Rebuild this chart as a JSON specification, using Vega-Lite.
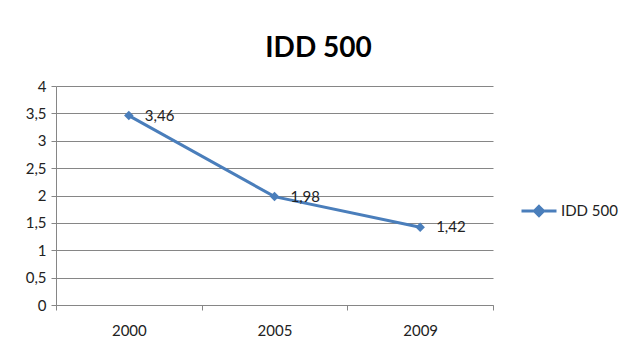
{
  "$schema": "https://vega.github.io/schema/vega-lite/v6.json",
  "width": 437,
  "height": 219,
  "autosize": "none",
  "padding": {"left": 56, "top": 86, "right": 130, "bottom": 37},
  "background": "white",
  "title": {
    "text": "IDD 500",
    "font": "Lato",
    "fontSize": 28,
    "fontWeight": "bold",
    "color": "#000000",
    "anchor": "middle",
    "dx": 44,
    "baseline": "alphabetic",
    "offset": 29,
    "dy": 35
  },
  "data": {
    "values": [
      {"year": "2000", "value": 3.46, "series": "IDD 500"},
      {"year": "2005", "value": 1.98, "series": "IDD 500"},
      {"year": "2009", "value": 1.42, "series": "IDD 500"}
    ]
  },
  "encoding": {
    "x": {
      "field": "year",
      "type": "ordinal",
      "scale": {"type": "band", "paddingInner": 0, "paddingOuter": 0},
      "axis": {
        "title": null,
        "labelAngle": 0,
        "tickBand": "extent",
        "tickSize": 5,
        "tickColor": "#868686",
        "domainColor": "#868686",
        "labelPadding": 13,
        "labelFont": "Lato",
        "labelFontSize": 15,
        "labelColor": "#222222",
        "grid": false
      }
    },
    "y": {
      "field": "value",
      "type": "quantitative",
      "scale": {"domain": [0, 4], "nice": false},
      "axis": {
        "title": null,
        "values": [0, 0.5, 1, 1.5, 2, 2.5, 3, 3.5, 4],
        "format": "~g",
        "tickSize": 5,
        "tickColor": "#868686",
        "domainColor": "#868686",
        "gridColor": "#868686",
        "gridWidth": 1,
        "labelPadding": 5,
        "labelFont": "Lato",
        "labelFontSize": 15,
        "labelColor": "#222222"
      }
    }
  },
  "layer": [
    {
      "mark": {"type": "line", "strokeWidth": 3, "color": "#4A7EBB"},
      "encoding": {
        "color": {
          "field": "series",
          "type": "nominal",
          "scale": {"range": ["#4A7EBB"]},
          "legend": {
            "title": null,
            "orient": "none",
            "legendX": 464,
            "legendY": 106,
            "symbolType": "M-1,0H1M0,-0.26L0.26,0L0,0.26L-0.26,0Z",
            "symbolSize": 1225,
            "symbolStrokeWidth": 3,
            "symbolFillColor": "#4A7EBB",
            "symbolStrokeColor": "#4A7EBB",
            "labelFont": "Lato",
            "labelFontSize": 15,
            "labelColor": "#222222",
            "labelOffset": 3
          }
        }
      }
    },
    {
      "mark": {"type": "point", "shape": "diamond", "filled": true, "size": 90, "color": "#4A7EBB", "opacity": 1}
    },
    {
      "mark": {"type": "text", "align": "left", "baseline": "middle", "dx": 16, "font": "Lato", "fontSize": 15, "color": "#222222"},
      "encoding": {
        "text": {"field": "value", "type": "quantitative", "format": ".2f"}
      }
    }
  ],
  "config": {
    "locale": {
      "number": {"decimal": ",", "thousands": ".", "grouping": [3], "currency": ["", " €"]}
    },
    "view": {"stroke": null}
  }
}
